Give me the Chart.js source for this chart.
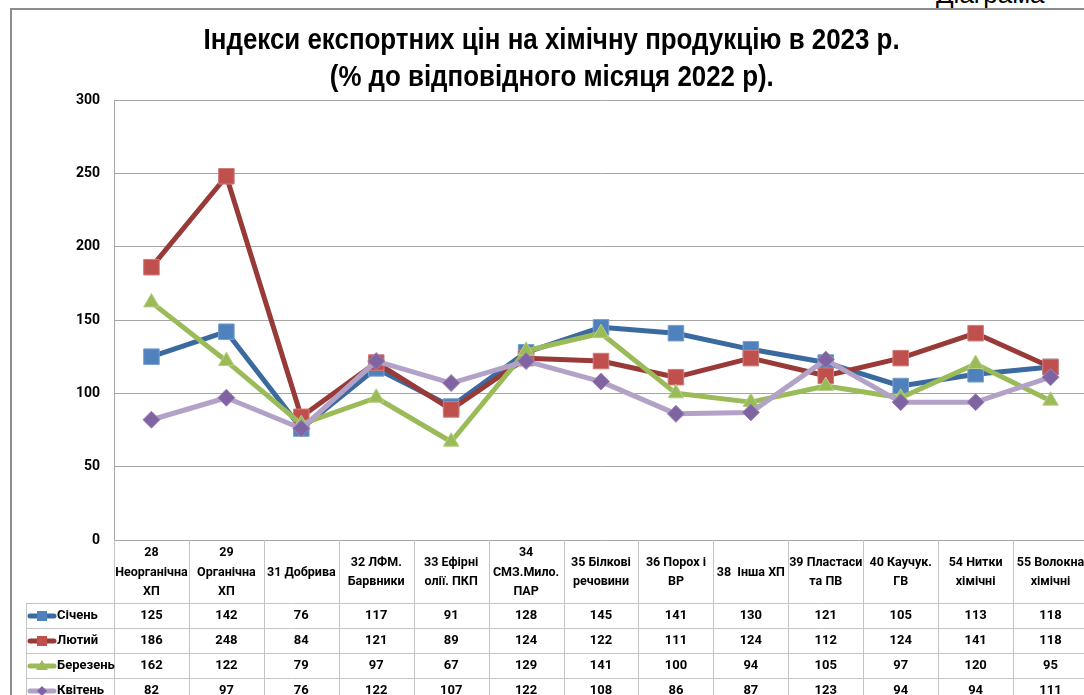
<!DOCTYPE html>
<html><head><meta charset="utf-8">
<script src="https://cdn.jsdelivr.net/npm/chart.js@4.4.1/dist/chart.umd.min.js"></script>
<style>
html,body{margin:0;padding:0;width:1084px;height:695px;overflow:hidden;background:#fff;}
#frame{position:absolute;left:10px;top:8px;width:1200px;height:800px;border-left:2px solid #8c8c8c;border-top:2px solid #8c8c8c;}
#corner{position:absolute;left:936px;top:-21px;font:26px "Liberation Sans",Arial,sans-serif;color:#000;white-space:nowrap;}
#title{position:absolute;left:0;width:1104px;top:21px;text-align:center;font:bold 29px "Liberation Sans",Arial,sans-serif;line-height:37px;color:#000;}
#title span{display:inline-block;white-space:nowrap;transform-origin:50% 50%;}
#wrap{position:absolute;left:0;top:0;width:1100px;height:695px;}
</style></head>
<body>
<div id="frame"></div>
<div id="corner">Діаграма</div>
<div id="wrap"><canvas id="c" width="1100" height="695"></canvas></div>
<div id="title"><span id="t1">Індекси експортних цін на хімічну продукцію в 2023 р.</span><br><span id="t2">(% до відповідного місяця 2022 р).</span></div>
<script>
const categories = [["28","Неорганічна","ХП"],["29","Органічна","ХП"],["31 Добрива"],["32 ЛФМ.","Барвники"],["33 Ефірні","олії. ПКП"],["34","СМЗ.Мило.","ПАР"],["35 Білкові","речовини"],["36 Порох і","ВР"],["38  Інша ХП"],["39 Пластаси","та ПВ"],["40 Каучук.","ГВ"],["54 Нитки","хімічні"],["55 Волокна","хімічні"]];
const seriesNames = ["Січень","Лютий","Березень","Квітень"];
const sichen  = [125,142,76,117,91,128,145,141,130,121,105,113,118];
const lyutyi  = [186,248,84,121,89,124,122,111,124,112,124,141,118];
const berezen = [162,122,79,97,67,129,141,100,94,105,97,120,95];
const kviten  = [82,97,76,122,107,122,108,86,87,123,94,94,111];
const yMin = 0, yMax = 300, yStep = 50;

// scale title lines to the reference widths (narrow bold face)
function fitTitle(){
  const t1=document.getElementById('t1'), t2=document.getElementById('t2');
  const w1=t1.getBoundingClientRect().width, w2=t2.getBoundingClientRect().width;
  t1.style.transform='scaleX('+(696/w1)+')';
  t2.style.transform='scaleX('+(444/w2)+')';
}
fitTitle();

const styles = [
  {line:'#3a6a9f', fill:'#4f81bd', edge:'#7a9fcf', shape:'rect', r:11},
  {line:'#983a37', fill:'#c0504d', edge:'#d27d7a', shape:'rect', r:11},
  {line:'#9bbb59', fill:'#9bbb59', edge:'#b5cf83', shape:'triangle', r:9},
  {line:'#b3a2c7', fill:'#8064a2', edge:'#9c86b8', shape:'rectRot', r:8.5}
];
const seriesData = [sichen, lyutyi, berezen, kviten];

function smallMarker(ctx, shape, x, y, color){
  ctx.fillStyle=color;
  ctx.beginPath();
  if(shape==='rect'){ ctx.rect(x-5,y-5,10,10); }
  else if(shape==='triangle'){ ctx.moveTo(x,y-6); ctx.lineTo(x+6,y+4); ctx.lineTo(x-6,y+4); ctx.closePath(); }
  else { ctx.moveTo(x,y-5); ctx.lineTo(x+5,y); ctx.lineTo(x,y+5); ctx.lineTo(x-5,y); ctx.closePath(); }
  ctx.fill();
}

const tablePlugin = {
  id:'dataTable',
  afterDraw(chart){
    const ctx=chart.ctx, xs=chart.scales.x, ca=chart.chartArea;
    const labels=chart.data.labels, n=labels.length;
    const bw=(ca.right-ca.left)/n;
    const top=ca.bottom, headH=63, rowH=25, legL=26;
    const rows=chart.data.datasets.length;
    const bottom=top+headH+rows*rowH;
    ctx.save();
    ctx.strokeStyle='#c4c4c4'; ctx.lineWidth=1;
    ctx.beginPath();
    for(let i=0;i<=n;i++){ const px=Math.round(ca.left+i*bw)+0.5; ctx.moveTo(px,top); ctx.lineTo(px,bottom); }
    for(let r=0;r<=rows;r++){ const py=Math.round(top+headH+r*rowH)+0.5; ctx.moveTo(legL,py); ctx.lineTo(ca.right,py); }
    ctx.moveTo(legL+0.5,top+headH); ctx.lineTo(legL+0.5,bottom);
    ctx.stroke();
    // header
    ctx.fillStyle='#000';
    ctx.textAlign='center'; ctx.textBaseline='middle';
    ctx.font='bold 12.5px Roboto, "Liberation Sans", sans-serif';
    const lh=19.5, hc=top+32.5;
    labels.forEach((lab,i)=>{
      const cx=xs.getPixelForValue(i);
      const lines=Array.isArray(lab)?lab:[lab];
      const y0=hc-(lines.length-1)*lh/2;
      lines.forEach((t,k)=>ctx.fillText(t,cx,y0+k*lh));
    });
    // rows
    ctx.font='bold 13px Roboto, "Liberation Sans", sans-serif';
    chart.data.datasets.forEach((ds,r)=>{
      const cy=top+headH+r*rowH+rowH/2+0.5;
      ctx.fillStyle='#000'; ctx.textAlign='center';
      ds.data.forEach((v,i)=>ctx.fillText(String(v),xs.getPixelForValue(i),cy));
      const st=styles[r];
      ctx.strokeStyle=st.line; ctx.lineWidth=5; ctx.lineCap='round';
      ctx.beginPath(); ctx.moveTo(30,cy); ctx.lineTo(54,cy); ctx.stroke();
      smallMarker(ctx, st.shape, 42, cy, st.fill);
      ctx.fillStyle='#000'; ctx.textAlign='left';
      ctx.fillText(ds.label,57,cy);
    });
    ctx.restore();
  }
};

const datasets = seriesNames.map((name,k)=>({
  label:name,
  data:seriesData[k],
  borderColor:styles[k].line,
  backgroundColor:styles[k].fill,
  pointBackgroundColor:styles[k].fill,
  pointBorderColor:styles[k].edge,
  pointBorderWidth:1,
  pointStyle:styles[k].shape,
  pointRadius:styles[k].r,
  pointHoverRadius:styles[k].r,
  borderWidth:5,
  borderJoinStyle:'round',
  borderCapStyle:'round',
  tension:0,
  fill:false,
  order:4-k
}));

new Chart(document.getElementById('c'),{
  type:'line',
  data:{labels:categories, datasets},
  options:{
    responsive:false,
    animation:false,
    devicePixelRatio:1,
    layout:{padding:{top:100,bottom:155,left:0,right:11}},
    plugins:{legend:{display:false},title:{display:false},tooltip:{enabled:false}},
    scales:{
      x:{type:'category',display:false,offset:true},
      y:{
        min:yMin,max:yMax,
        afterFit(s){ s.width=114; },
        ticks:{stepSize:yStep,padding:14,color:'#000',font:{family:'Roboto',size:14,weight:'bold'}},
        grid:{color:'#a6a6a6',lineWidth:1,drawTicks:false},
        border:{color:'#a6a6a6',width:1}
      }
    }
  },
  plugins:[tablePlugin]
});
</script>
</body></html>
